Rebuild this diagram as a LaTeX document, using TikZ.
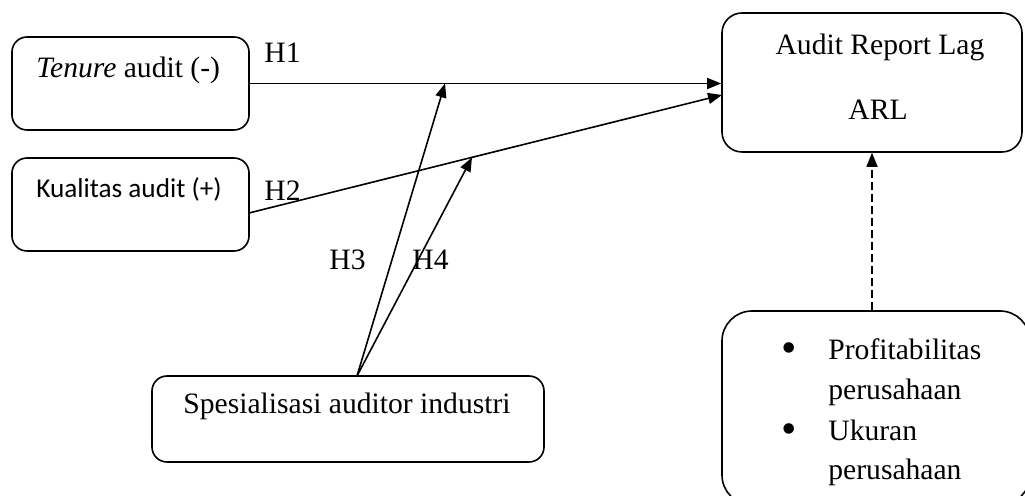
\documentclass[tikz,border=0pt]{standalone}
\usepackage{fontspec}
\setmainfont{Liberation Serif}
\newfontfamily\calib{Carlito}
\usetikzlibrary{arrows.meta}
\begin{document}
\begin{tikzpicture}[x=0.5pt,y=-0.5pt,
  box/.style={draw,line width=0.8pt,inner sep=0pt},
  lbl/.style={inner sep=0pt,anchor=base west,font=\fontsize{14.8}{17}\selectfont},
  bul/.style={inner sep=0pt,anchor=base,font=\fontsize{22}{22}\selectfont},
  arr/.style={line width=0.8pt,-{Triangle[length=7pt,width=5.5pt]}},
]
\useasboundingbox (0,0) rectangle (1025,496);
\clip (0,0) rectangle (1025,496);

% boxes
\node[box,rounded corners=7.5pt,minimum width=118.5pt,minimum height=46.5pt] (ten) at (130.5,83.5) {};
\node[box,rounded corners=7.5pt,minimum width=118.5pt,minimum height=46.5pt] (kual) at (130.5,204.5) {};
\node[box,rounded corners=10pt,minimum width=150pt,minimum height=69.5pt] (arl) at (872,82.5) {};
\node[box,rounded corners=7.5pt,minimum width=196pt,minimum height=43pt] (spes) at (348,419) {};
\node[box,rounded corners=15pt,minimum width=154pt,minimum height=97pt] (bul) at (876,408) {};

% texts
\node[lbl] (t1) at (36,78) {\textit{Tenure} audit (-)};
\node[lbl,font=\calib\fontsize{13.6}{16}\selectfont] (t2) at (36,198) {Kualitas audit (+)};
\node[lbl,anchor=base] (t3) at (880,55) {Audit Report Lag};
\node[lbl,anchor=base] (t4) at (878,120) {ARL};
\node[lbl] (t5) at (183,414) {Spesialisasi auditor industri};
\node[bul] (b1) at (789,363) {•};
\node[lbl] (t6) at (828,360) {Profitabilitas};
\node[lbl] (t7) at (828,400) {perusahaan};
\node[bul] (b2) at (789,444) {•};
\node[lbl] (t8) at (828,441) {Ukuran};
\node[lbl] (t9) at (828,480) {perusahaan};

\node[lbl] (h1) at (264,63) {H1};
\node[lbl] (h2) at (264,201) {H2};
\node[lbl] (h3) at (329,270) {H3};
\node[lbl] (h4) at (412,270) {H4};

% connectors
\coordinate (h2s) at (249,213);
\coordinate (h2e) at (722,95);
\coordinate (h3e) at (445,83.5);
\coordinate (h4e) at (472,157.5);
\coordinate (h34s) at (357,376);

\draw[arr] (ten.east) -- (ten.east -| arl.west);
\draw[arr] (h2s) -- (h2e);
\draw[arr] (h34s) -- (h3e);
\draw[arr] (h34s) -- (h4e);
\draw[arr,dash pattern=on 4pt off 2pt] (arl.south |- bul.north) -- (arl.south);
\end{tikzpicture}
\end{document}
